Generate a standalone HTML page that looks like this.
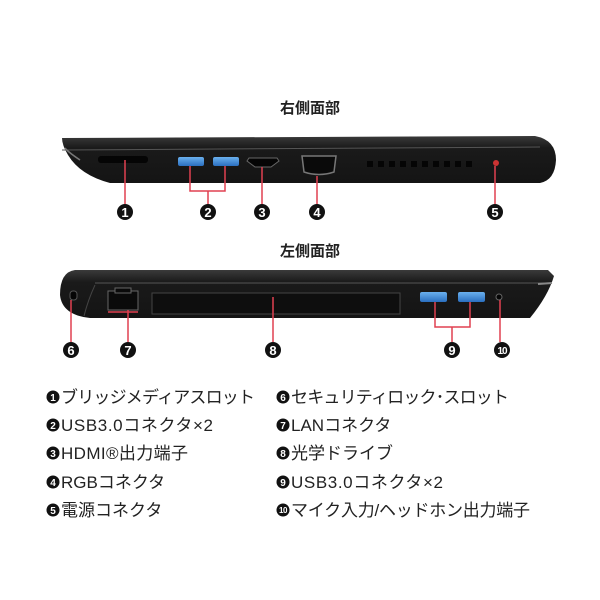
<!DOCTYPE html>
<html><head><meta charset="utf-8"><style>
html,body{margin:0;padding:0;background:#fff;width:600px;height:600px;overflow:hidden}
svg{display:block}
.t{font-family:"Liberation Sans","Noto Sans CJK JP",sans-serif}
</style></head><body>
<svg width="600" height="600" viewBox="0 0 600 600" xmlns="http://www.w3.org/2000/svg">
<defs>
<linearGradient id="g1" x1="0" y1="0" x2="0" y2="1"><stop offset="0" stop-color="#3a3a3a"/><stop offset="0.25" stop-color="#1a1a1a"/><stop offset="1" stop-color="#141414"/></linearGradient>
<linearGradient id="usb" x1="0" y1="0" x2="0" y2="1"><stop offset="0" stop-color="#6ab0ee"/><stop offset="1" stop-color="#2a6fc0"/></linearGradient>
</defs>
<text x="310" y="113" text-anchor="middle" class="t" font-size="15" font-weight="bold" fill="#222">右側面部</text>
<text x="310" y="256" text-anchor="middle" class="t" font-size="15" font-weight="bold" fill="#222">左側面部</text>

<path d="M62 138 L535 136 Q556 140 556 160 Q555 180 540 183 L110 183 Q80 175 68 155 Q62 145 62 138 Z" fill="url(#g1)"/>
<path d="M62 150 L540 147" stroke="#555" stroke-width="1"/>
<path d="M65 148 Q68 152 80 160" stroke="#777" stroke-width="1.5" fill="none"/>
<rect x="98" y="156" width="50" height="7" rx="3" fill="#050505"/>
<rect x="178" y="157" width="26" height="9" rx="2" fill="url(#usb)"/>
<rect x="213" y="157" width="26" height="9" rx="2" fill="url(#usb)"/>
<path d="M249 158 L277 158 L279 161 L271 167 L255 167 L247 161 Z" fill="#050505" stroke="#666" stroke-width="1"/>
<path d="M302 156 L336 156 L334 172 Q319 177 304 172 Z" fill="#0a0a0a" stroke="#777" stroke-width="1.5"/>
<g fill="#050505">
<rect x="367" y="161" width="6" height="6"/><rect x="378" y="161" width="6" height="6"/><rect x="389" y="161" width="6" height="6"/><rect x="400" y="161" width="6" height="6"/><rect x="411" y="161" width="6" height="6"/><rect x="422" y="161" width="6" height="6"/><rect x="433" y="161" width="6" height="6"/><rect x="444" y="161" width="6" height="6"/><rect x="455" y="161" width="6" height="6"/><rect x="466" y="161" width="6" height="6"/>
</g>
<circle cx="496" cy="163" r="3" fill="#c33"/>
<g stroke="#e04050" stroke-width="1.5" fill="none">
<path d="M125 160 V205"/>
<path d="M190 166 V191 H225 V166 M208 191 V205"/>
<path d="M262 167 V205"/>
<path d="M317 176 V205"/>
<path d="M495 166 V205"/>
</g>

<path d="M75 270 L548 270 L554 276 Q548 296 530 318 L90 318 Q62 315 60 295 Q60 272 75 270 Z" fill="url(#g1)"/>
<path d="M95 283 L548 283" stroke="#555" stroke-width="1"/>
<path d="M95 285 Q88 300 84 316" stroke="#444" stroke-width="1" fill="none"/>
<path d="M538 284 L552 283" stroke="#888" stroke-width="2"/>
<rect x="70" y="291" width="7" height="9" rx="3" fill="#050505" stroke="#555"/>
<path d="M108 291 H138 V310 H108 Z" fill="#0a0a0a" stroke="#666" stroke-width="1"/>
<rect x="115" y="288" width="16" height="5" fill="#0a0a0a" stroke="#666" stroke-width="1"/>
<path d="M152 293 H400 V314 H152 Z" fill="#0e0e0e" stroke="#444" stroke-width="1"/>
<rect x="420" y="292" width="27" height="10" rx="2" fill="url(#usb)"/>
<rect x="458" y="292" width="27" height="10" rx="2" fill="url(#usb)"/>
<circle cx="499" cy="297" r="3" fill="#050505" stroke="#666"/>
<g stroke="#e04050" stroke-width="1.5" fill="none">
<path d="M71 300 V342"/>
<path d="M108 312 H138 M128 310 V342"/>
<path d="M273 297 V342"/>
<path d="M435 302 V327 H470 V302 M452 327 V342"/>
<path d="M500 300 V342"/>
</g>

<g class="t" font-weight="bold" font-size="13" text-anchor="middle" fill="#fff">
<circle cx="125" cy="212" r="8" fill="#111"/><text x="125" y="217">1</text>
<circle cx="208" cy="212" r="8" fill="#111"/><text x="208" y="217">2</text>
<circle cx="262" cy="212" r="8" fill="#111"/><text x="262" y="217">3</text>
<circle cx="317" cy="212" r="8" fill="#111"/><text x="317" y="217">4</text>
<circle cx="495" cy="212" r="8" fill="#111"/><text x="495" y="217">5</text>
<circle cx="71" cy="350" r="8" fill="#111"/><text x="71" y="355">6</text>
<circle cx="128" cy="350" r="8" fill="#111"/><text x="128" y="355">7</text>
<circle cx="273" cy="350" r="8" fill="#111"/><text x="273" y="355">8</text>
<circle cx="452" cy="350" r="8" fill="#111"/><text x="452" y="355">9</text>
<circle cx="502" cy="350" r="8" fill="#111"/><text x="502" y="354" font-size="10" letter-spacing="-1">10</text>
</g>

<g class="t" font-size="17" fill="#222">
<g font-weight="bold" font-size="10" text-anchor="middle" fill="#fff">
<circle cx="53" cy="397" r="6.5" fill="#111"/><text x="53" y="401">1</text>
<circle cx="53" cy="425" r="6.5" fill="#111"/><text x="53" y="429">2</text>
<circle cx="53" cy="453" r="6.5" fill="#111"/><text x="53" y="457">3</text>
<circle cx="53" cy="482" r="6.5" fill="#111"/><text x="53" y="486">4</text>
<circle cx="53" cy="510" r="6.5" fill="#111"/><text x="53" y="514">5</text>
<circle cx="283" cy="397" r="6.5" fill="#111"/><text x="283" y="401">6</text>
<circle cx="283" cy="425" r="6.5" fill="#111"/><text x="283" y="429">7</text>
<circle cx="283" cy="453" r="6.5" fill="#111"/><text x="283" y="457">8</text>
<circle cx="283" cy="482" r="6.5" fill="#111"/><text x="283" y="486">9</text>
<circle cx="283" cy="510" r="6.5" fill="#111"/><text x="283" y="513" font-size="8" letter-spacing="-0.5">10</text>
</g>
<text x="61" y="403" textLength="194">ブリッジメディアスロット</text>
<text x="61" y="431" textLength="152">USB3.0コネクタ×2</text>
<text x="61" y="459" textLength="127">HDMI®出力端子</text>
<text x="61" y="488">RGBコネクタ</text>
<text x="61" y="516">電源コネクタ</text>
<text x="291" y="403" textLength="218">セキュリティロック･スロット</text>
<text x="291" y="431">LANコネクタ</text>
<text x="291" y="459">光学ドライブ</text>
<text x="291" y="488" textLength="152">USB3.0コネクタ×2</text>
<text x="291" y="516" textLength="239">マイク入力/ヘッドホン出力端子</text>
</g>
</svg>
</body></html>
